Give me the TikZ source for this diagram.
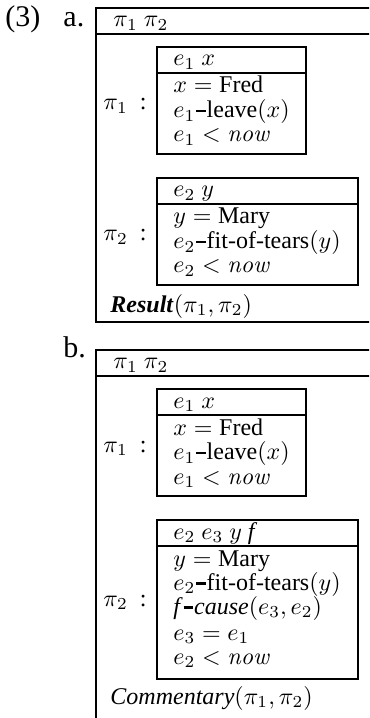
\documentclass[tikz,border=0pt]{standalone}
\usepackage[no-math]{fontspec}
\setmainfont{Liberation Serif}
\newcommand{\hdash}{\hspace{0.3pt}\rule[2.2pt]{4.0pt}{1.0pt}\hspace{0.4pt}}
\newcommand{\plab}[1]{$\pi_{#1}$\hspace{5pt}:}
\begin{document}
\begin{tikzpicture}[x=0.41667pt,y=-0.41667pt,
  txt/.style={anchor=base west,inner sep=0pt,font=\fontsize{10}{12}\selectfont},
  lab/.style={anchor=base west,inner sep=0pt,font=\fontsize{12.5}{14}\selectfont},
  outer/.style={line width=0.6pt},
  inner/.style={line width=0.9pt}]
\useasboundingbox (0,0) rectangle (369,718);
\clip (0,0) rectangle (369,718);
% ---------- (3) a.
\node[lab] (n3) at (5,27) {(3)};
\node[lab] (na) at (63,27) {a.};
\draw[outer] (375,8) -- (96,8) -- (96,322) -- (375,322);
\draw[outer] (96,34) -- (375,34);
\node[txt] (ah) at (113,27) {$\pi_1\ \pi_2$};
% pi1 box
\draw[inner] (157,47) rectangle (306,154);
\draw[inner] (157,73) -- (306,73);
\node[txt] (a1l) at (103,110) {\plab{1}};
\node[txt] (a1h) at (173,66) {$e_1\ x$};
\node[txt] (a1a) at (173,93) {$x = \mbox{Fred}$};
\node[txt] (a1b) at (173,117.5) {$e_1$\hdash leave$(x)$};
\node[txt] (a1c) at (173,142) {$e_1 < \mathit{now}$};
% pi2 box
\draw[inner] (157,178) rectangle (358,285);
\draw[inner] (157,204) -- (358,204);
\node[txt] (a2l) at (103,241) {\plab{2}};
\node[txt] (a2h) at (173,197) {$e_2\ y$};
\node[txt] (a2a) at (173,224) {$y = \mbox{Mary}$};
\node[txt] (a2b) at (173,248.5) {$e_2$\hdash fit-of-tears$(y)$};
\node[txt] (a2c) at (173,273) {$e_2 < \mathit{now}$};
\node[txt] (ar) at (110,312) {\textit{\textbf{Result}}$(\pi_1, \pi_2)$};
% ---------- b.
\node[lab] (nb) at (63,357) {b.};
\draw[outer] (375,350) -- (96,350) -- (96,725);
\draw[outer] (96,376) -- (375,376);
\node[txt] (bh) at (113,369) {$\pi_1\ \pi_2$};
% pi1 box
\draw[inner] (157,389) rectangle (306,496);
\draw[inner] (157,415) -- (306,415);
\node[txt] (b1l) at (103,452) {\plab{1}};
\node[txt] (b1h) at (173,408) {$e_1\ x$};
\node[txt] (b1a) at (173,435) {$x = \mbox{Fred}$};
\node[txt] (b1b) at (173,459.5) {$e_1$\hdash leave$(x)$};
\node[txt] (b1c) at (173,484) {$e_1 < \mathit{now}$};
% pi2 box
\draw[inner] (157,520) rectangle (358,679);
\draw[inner] (157,546) -- (358,546);
\node[txt] (b2l) at (103,606) {\plab{2}};
\node[txt] (b2h) at (173,539) {$e_2\ e_3\ y$ \textit{f}};
\node[txt] (b2a) at (173,566) {$y = \mbox{Mary}$};
\node[txt] (b2b) at (173,590) {$e_2$\hdash fit-of-tears$(y)$};
\node[txt] (b2c) at (173,614) {\textit{f}\hdash\textit{cause}$(e_3, e_2)$};
\node[txt] (b2d) at (173,640) {$e_3 = e_1$};
\node[txt] (b2e) at (173,664) {$e_2 < \mathit{now}$};
\node[txt] (br) at (110,704) {\textit{Commentary}$(\pi_1, \pi_2)$};
\end{tikzpicture}
\end{document}
